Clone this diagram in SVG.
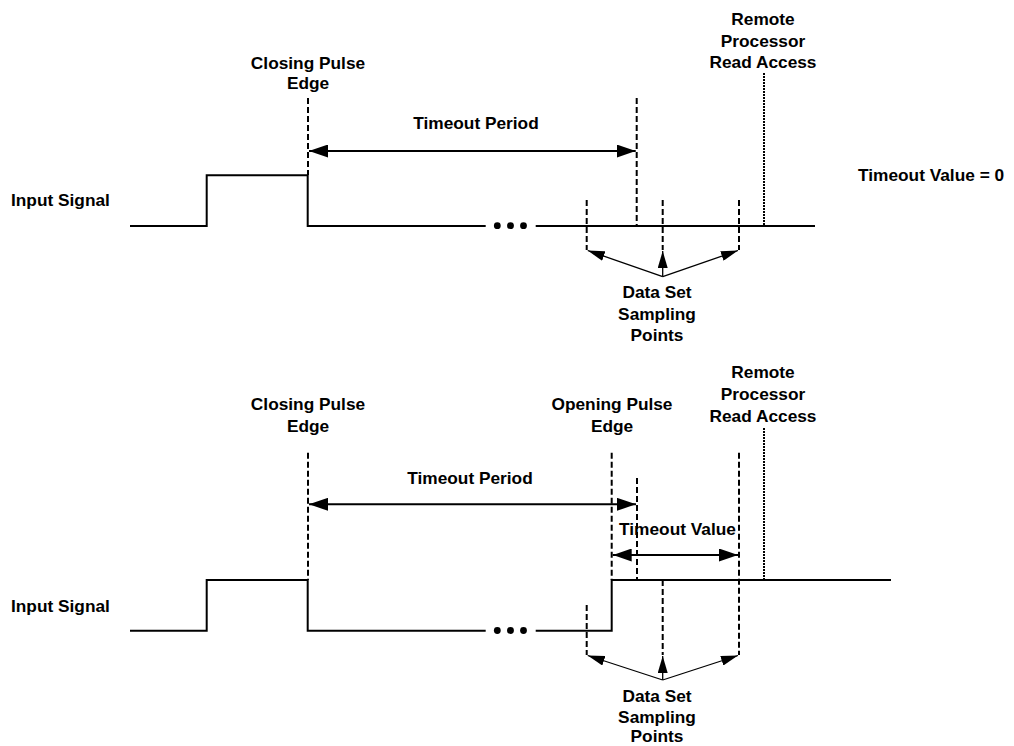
<svg xmlns="http://www.w3.org/2000/svg" width="1014" height="746" viewBox="0 0 1014 746">
<style>
  text { font-family: "Liberation Sans", Arial, sans-serif; font-weight: bold; font-size: 17.3px; fill: #000; }
  .c { text-anchor: middle; }
  .sig { fill: none; stroke: #000; stroke-width: 2; }
  .dash { fill: none; stroke: #000; stroke-width: 2; stroke-dasharray: 6 3; }
  .dot { fill: none; stroke: #000; stroke-width: 2; stroke-dasharray: 2 1; }
  .dim { fill: none; stroke: #000; stroke-width: 2; marker-start: url(#big); marker-end: url(#big); }
  .pt { fill: none; stroke: #000; stroke-width: 1.3; marker-end: url(#small); }
</style>
<defs>
  <marker id="big" viewBox="0 0 19 13" refX="19" refY="6.5" markerWidth="19" markerHeight="13" markerUnits="userSpaceOnUse" orient="auto-start-reverse">
    <path d="M0,0 L19,6.5 L0,13 z" fill="#000"/>
  </marker>
  <marker id="small" viewBox="0 0 17 10" refX="17" refY="5" markerWidth="17" markerHeight="10" markerUnits="userSpaceOnUse" orient="auto">
    <path d="M0,0 L17,5 L0,10 z" fill="#000"/>
  </marker>
</defs>

<!-- Top diagram -->
<g id="top-signal">
  <text x="11" y="206">Input Signal</text>
  <polyline class="sig" points="130,226 206.7,226 206.7,175.3 307.7,175.3 307.7,226 485.7,226"/>
  <circle cx="497.3" cy="225.7" r="3.4"/>
  <circle cx="510.5" cy="225.7" r="3.4"/>
  <circle cx="523.5" cy="225.7" r="3.4"/>
  <line class="sig" x1="535.7" y1="226" x2="815" y2="226"/>
</g>
<g id="top-closing-edge">
  <text class="c" x="308" y="69">Closing Pulse</text>
  <text class="c" x="308" y="89">Edge</text>
  <line class="dash" x1="308" y1="98" x2="308" y2="175"/>
</g>
<g id="top-timeout-end">
  <line class="dash" x1="636.7" y1="98" x2="636.7" y2="226"/>
</g>
<g id="top-remote">
  <text class="c" x="763" y="25">Remote</text>
  <text class="c" x="763" y="46.5">Processor</text>
  <text class="c" x="763" y="67.5">Read Access</text>
  <line class="dot" x1="764" y1="73" x2="764" y2="226"/>
</g>
<g id="top-sampling">
  <line class="dash" x1="586.7" y1="200" x2="586.7" y2="250"/>
  <line class="dash" x1="662.7" y1="200" x2="662.7" y2="250"/>
  <line class="dash" x1="739" y1="200" x2="739" y2="250"/>
  <text class="c" x="657" y="298">Data Set</text>
  <text class="c" x="657" y="319.5">Sampling</text>
  <text class="c" x="657" y="341">Points</text>
</g>
<g id="top-timeout-label">
  <text class="c" x="476" y="129">Timeout Period</text>
  <text x="858" y="181">Timeout Value = 0</text>
</g>

<!-- Bottom diagram -->
<g id="bottom-signal">
  <text x="11" y="612">Input Signal</text>
  <polyline class="sig" points="130,630.7 206.7,630.7 206.7,580 307.7,580 307.7,630.7 485.7,630.7"/>
  <circle cx="497.3" cy="630.5" r="3.4"/>
  <circle cx="510.5" cy="630.5" r="3.4"/>
  <circle cx="523.5" cy="630.5" r="3.4"/>
  <polyline class="sig" points="535.7,630.7 611.7,630.7 611.7,580 891,580"/>
</g>
<g id="bottom-closing-edge">
  <text class="c" x="308" y="410">Closing Pulse</text>
  <text class="c" x="308" y="431.5">Edge</text>
  <line class="dash" x1="308" y1="452.7" x2="308" y2="580"/>
</g>
<g id="bottom-opening-edge">
  <text class="c" x="612" y="410">Opening Pulse</text>
  <text class="c" x="612" y="431.5">Edge</text>
  <line class="dash" x1="611.7" y1="452.7" x2="611.7" y2="580"/>
</g>
<g id="bottom-timeout-end">
  <line class="dash" x1="637" y1="478" x2="637" y2="580"/>
</g>
<g id="bottom-remote">
  <text class="c" x="763" y="378">Remote</text>
  <text class="c" x="763" y="400">Processor</text>
  <text class="c" x="763" y="421.5">Read Access</text>
  <line class="dot" x1="764" y1="428" x2="764" y2="580"/>
</g>
<g id="bottom-sampling">
  <line class="dash" x1="586.7" y1="605" x2="586.7" y2="655"/>
  <line class="dash" x1="662.7" y1="580" x2="662.7" y2="655"/>
  <line class="dash" x1="739" y1="452.7" x2="739" y2="655"/>
  <text class="c" x="657" y="702">Data Set</text>
  <text class="c" x="657" y="723">Sampling</text>
  <text class="c" x="657" y="742">Points</text>
</g>
<g id="bottom-labels">
  <text class="c" x="470" y="484">Timeout Period</text>
  <text class="c" x="677.5" y="535">Timeout Value</text>
</g>

<!-- Connectors -->
<g id="connectors">
  <line class="dim" x1="309" y1="151" x2="635.7" y2="151"/>
  <line class="pt" x1="662.7" y1="276.7" x2="587.7" y2="250.5"/>
  <line class="pt" x1="662.7" y1="276.7" x2="662.7" y2="251"/>
  <line class="pt" x1="662.7" y1="276.7" x2="738" y2="250.5"/>

  <line class="dim" x1="309" y1="504.3" x2="636" y2="504.3"/>
  <line class="dim" x1="612.7" y1="555" x2="738" y2="555"/>
  <line class="pt" x1="662.7" y1="680" x2="587.7" y2="655.5"/>
  <line class="pt" x1="662.7" y1="680" x2="662.7" y2="656"/>
  <line class="pt" x1="662.7" y1="680" x2="738" y2="655.5"/>
</g>
</svg>
